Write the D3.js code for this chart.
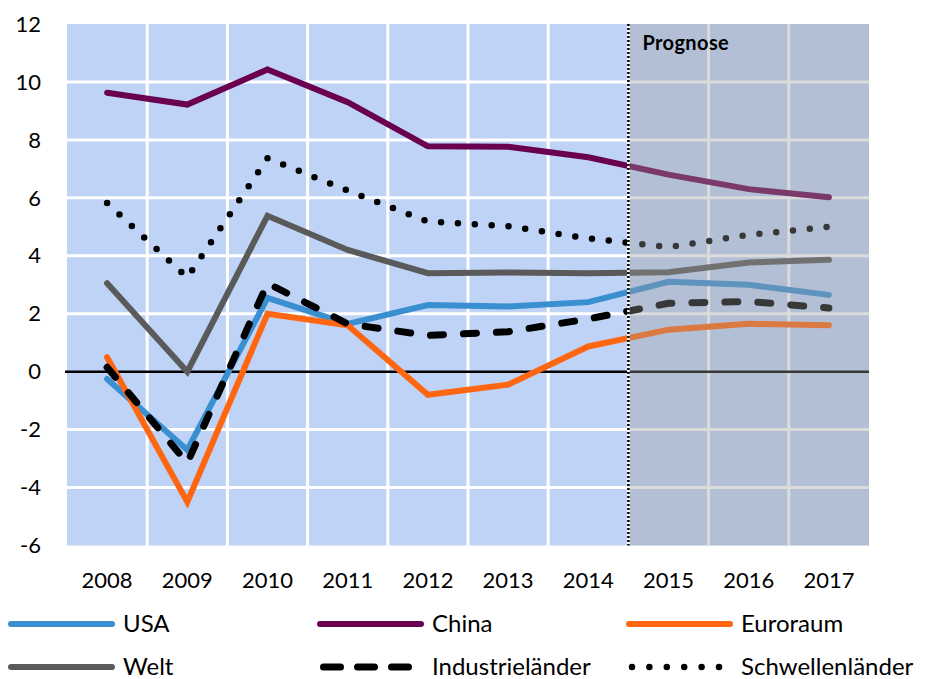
<!DOCTYPE html>
<html lang="de">
<head>
<meta charset="UTF-8">
<title>BIP-Wachstum</title>
<script src="https://d3js.org/d3.v7.min.js"></script>
<style>
  body { margin: 0; background: #fff; }
  text { font-family: Lato, "Open Sans", sans-serif; fill: #000; }
</style>
</head>
<body>
<div id="chart"></div>
<script>
// data
const years = ["2008", "2009", "2010", "2011", "2012", "2013", "2014", "2015", "2016", "2017"];
const usa = [-0.25, -2.7, 2.55, 1.65, 2.3, 2.25, 2.4, 3.1, 3.0, 2.65];
const china = [9.63, 9.22, 10.43, 9.3, 7.78, 7.76, 7.4, 6.8, 6.3, 6.02];
const euro = [0.5, -4.5, 2.0, 1.6, -0.8, -0.45, 0.87, 1.45, 1.65, 1.6];
const welt = [3.05, 0.0, 5.38, 4.2, 3.4, 3.42, 3.4, 3.43, 3.77, 3.86];
const industrie = [0.15, -3.15, 3.05, 1.65, 1.25, 1.38, 1.82, 2.36, 2.42, 2.2];
const schwellen = [5.82, 3.25, 7.37, 6.25, 5.18, 5.02, 4.6, 4.3, 4.72, 5.0];
const yTicks = [-6, -4, -2, 0, 2, 4, 6, 8, 10, 12];
const forecastFrom = "2015";

const width = 925, height = 679;
const plotL = 67, plotR = 869, plotT = 24, plotB = 545.5;

const svg = d3.select("#chart").append("svg")
    .attr("width", width).attr("height", height);

const x = d3.scaleBand().domain(years).range([plotL, plotR]);
const y = d3.scaleLinear().domain([-6, 12]).range([plotB, plotT]);

// plot background
svg.append("rect")
    .attr("x", plotL).attr("y", plotT)
    .attr("width", plotR - plotL).attr("height", plotB - plotT)
    .attr("fill", "#bfd3f6");

// grid
svg.append("g").selectAll("line")
    .data(yTicks.filter(d => d > -6 && d < 12 && d !== 0))
    .join("line")
    .attr("x1", plotL).attr("x2", plotR)
    .attr("y1", d => y(d)).attr("y2", d => y(d))
    .attr("stroke", "#fff").attr("stroke-width", 3);

svg.append("g").selectAll("line")
    .data(years.slice(1))
    .join("line")
    .attr("x1", d => x(d)).attr("x2", d => x(d))
    .attr("y1", plotT).attr("y2", plotB)
    .attr("stroke", "#fff").attr("stroke-width", 3);

// zero line
svg.append("line")
    .attr("x1", plotL - 2).attr("x2", plotR)
    .attr("y1", y(0)).attr("y2", y(0))
    .attr("stroke", "#000").attr("stroke-width", 2.5);

const px = i => x(years[i]) + x.bandwidth() / 2;

// dot spacing chosen so dots land on the 2008 start and the 2010 peak
function dotGap(values) {
    let len = 0;
    for (let i = 1; i <= 2; i++) {
        len += Math.hypot(px(i) - px(i - 1), y(values[i]) - y(values[i - 1]));
    }
    return len / Math.round(len / 16.5);
}

const series = [
    { name: "Welt", values: welt, color: "#5a5a5a", dash: null, width: 6 },
    { name: "Schwellenländer", values: schwellen, color: "#000", dash: `0 ${dotGap(schwellen)}`, width: 6.5 },
    { name: "China", values: china, color: "#6a0050", dash: null, width: 6 },
    { name: "USA", values: usa, color: "#3a8fd0", dash: null, width: 6 },
    { name: "Euroraum", values: euro, color: "#ff6612", dash: null, width: 6 },
    { name: "Industrieländer", values: industrie, color: "#000", dash: "13 20", width: 7 }
];

const line = d3.line()
    .x((d, i) => px(i))
    .y(d => y(d));

svg.append("g").selectAll("path")
    .data(series)
    .join("path")
    .attr("d", d => line(d.values))
    .attr("fill", "none")
    .attr("stroke", d => d.color)
    .attr("stroke-width", d => d.width)
    .attr("stroke-linecap", "round")
    .attr("stroke-dasharray", d => d.dash);

// forecast shading
const fx = x(forecastFrom);
svg.append("rect")
    .attr("x", fx).attr("y", plotT)
    .attr("width", plotR - fx).attr("height", plotB - plotT)
    .attr("fill", "#9c9c9c").attr("opacity", 0.36);

svg.append("line")
    .attr("x1", fx).attr("x2", fx).attr("y1", plotT).attr("y2", plotB)
    .attr("stroke", "#fff").attr("stroke-width", 2.5);
svg.append("line")
    .attr("x1", fx).attr("x2", fx).attr("y1", plotT).attr("y2", plotB)
    .attr("stroke", "#000").attr("stroke-width", 2.5)
    .attr("stroke-dasharray", "2 2");

svg.append("text")
    .attr("x", fx + 14).attr("y", 50)
    .attr("font-size", 20).attr("font-weight", "bold")
    .attr("letter-spacing", 0.4)
    .text("Prognose");

// axes labels
svg.append("g").selectAll("text")
    .data(yTicks)
    .join("text")
    .attr("x", 41).attr("y", d => y(d))
    .attr("dy", "0.35em")
    .attr("text-anchor", "end")
    .attr("font-size", 22)
    .text(d => d);

svg.append("g").selectAll("text")
    .data(years)
    .join("text")
    .attr("x", d => x(d) + x.bandwidth() / 2)
    .attr("y", 588)
    .attr("text-anchor", "middle")
    .attr("font-size", 22)
    .text(d => d);

// legend
const legendOrder = ["USA", "China", "Euroraum", "Welt", "Industrieländer", "Schwellenländer"];
const colX = [8, 317, 626];
const rowY = [624, 667];
const legend = svg.append("g").selectAll("g")
    .data(legendOrder.map(n => series.find(s => s.name === n)))
    .join("g")
    .attr("transform", (d, i) => `translate(${colX[i % 3]},${rowY[Math.floor(i / 3)]})`);

legend.append("line")
    .attr("x1", d => d.name === "Industrieländer" ? 6.5 : (d.dash ? 6 : 3))
    .attr("x2", d => d.dash ? 94 : 104)
    .attr("stroke", d => d.color)
    .attr("stroke-width", d => d.width)
    .attr("stroke-linecap", "round")
    .attr("stroke-dasharray", d => d.name === "Industrieländer" ? "17 17" : (d.dash ? "0 17.4" : null));

legend.append("text")
    .attr("x", 115).attr("dy", "0.35em")
    .attr("font-size", 24)
    .text(d => d.name);
</script>
</body>
</html>
